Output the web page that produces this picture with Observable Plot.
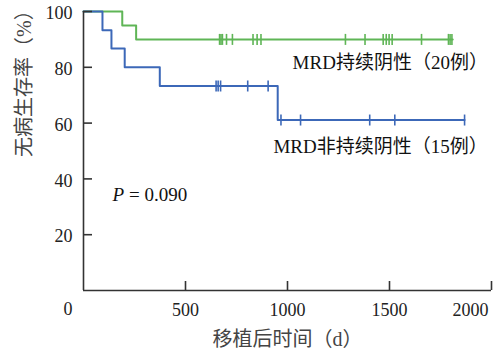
<!DOCTYPE html>
<html><head><meta charset="utf-8">
<script src="https://cdn.jsdelivr.net/npm/d3@7"></script>
<script src="https://cdn.jsdelivr.net/npm/@observablehq/plot@0.6"></script>
<style>body{margin:0;background:#fff}</style>
</head><body><div id="chart"></div>
<script>
// MRD持续阴性（20例） — green
const greenStepTimes = [0, 190, 258, 1810];
const greenStepSurv  = [100, 95, 90, 90];
const greenCensorTimes = [667, 674, 681, 701, 730, 831, 851, 870, 1284, 1380, 1469, 1484, 1498, 1513, 1657, 1789, 1797, 1806];
const greenCensorSurv  = [90, 90, 90, 90, 90, 90, 90, 90, 90, 90, 90, 90, 90, 90, 90, 90, 90, 90];
// MRD非持续阴性（15例） — blue
const blueStepTimes = [0, 93, 137, 202, 374, 952, 1868];
const blueStepSurv  = [100, 93.3, 86.7, 80, 73.3, 61.1, 61.1];
const blueCensorTimes = [650, 660, 672, 805, 905, 968, 1064, 1403, 1526, 1868];
const blueCensorSurv  = [73.3, 73.3, 73.3, 73.3, 73.3, 61.1, 61.1, 61.1, 61.1, 61.1];

const xTicks = [500, 1000, 1500, 2000];
const yTicks = [20, 40, 60, 80, 100];
const xTitle = "移植后时间（d）";
const yTitle = "无病生存率（%）";
const legendLabels = ["MRD持续阴性（20例）", "MRD非持续阴性（15例）"];
const legendX = [1025, 931];
const legendY = [81.4, 51.3];
const pLabel = {x: 328, y: 34};

const green = "#5fb556", blue = "#3c68b8", ink = "#222", axisInk = "#333";
const zip = (t, s) => t.map((d, i) => ({t: d, s: s[i]}));
const vbar = {draw(ctx, size) { const h = Math.sqrt(size / Math.PI); ctx.moveTo(0, -h); ctx.lineTo(0, h); }};

const chart = Plot.plot({
  width: 496, height: 357,
  marginLeft: 83, marginRight: 5, marginTop: 11, marginBottom: 67,
  style: {fontFamily: "'Liberation Serif', 'Noto Sans CJK SC', serif", fontSize: "18px", background: "#fff", overflow: "visible"},
  x: {domain: [0, 2000], label: null},
  y: {domain: [0, 100], label: null},
  marks: [
    Plot.line(zip(greenStepTimes, greenStepSurv), {x: "t", y: "s", curve: "step-after", stroke: green, strokeWidth: 2}),
    Plot.line(zip(blueStepTimes, blueStepSurv), {x: "t", y: "s", curve: "step-after", stroke: blue, strokeWidth: 2}),
    Plot.dot(zip(greenCensorTimes, greenCensorSurv), {x: "t", y: "s", symbol: vbar, r: 5.5, stroke: green, strokeWidth: 1.6, fill: "none"}),
    Plot.dot(zip(blueCensorTimes, blueCensorSurv), {x: "t", y: "s", symbol: vbar, r: 5.5, stroke: blue, strokeWidth: 1.6, fill: "none"}),
    Plot.ruleX([0], {stroke: axisInk, strokeWidth: 1.6}),
    Plot.ruleY([0], {stroke: axisInk, strokeWidth: 1.6}),
    // inward ticks (outward ticks shifted by their own length)
    Plot.axisY({ticks: yTicks, tickSize: 9, dx: 9, tickFormat: () => "", stroke: axisInk, strokeWidth: 1.6, label: null}),
    Plot.axisX({ticks: xTicks, tickSize: 9, dy: -9, tickFormat: () => "", stroke: axisInk, strokeWidth: 1.6, label: null}),
    // tick labels
    Plot.axisX({ticks: xTicks.slice(0, -1), tickSize: 0, tickPadding: 13, tickFormat: d => String(d), fill: ink, fontSize: 18, label: null}),
    Plot.axisX({ticks: xTicks.slice(-1), tickSize: 0, tickPadding: 13, tickFormat: d => String(d), fill: ink, fontSize: 18, dx: -21, label: null}),
    Plot.axisY({ticks: yTicks, tickSize: 0, tickPadding: 11, tickFormat: d => String(d), fill: ink, fontSize: 18, dy: 2, label: null}),
    Plot.text(["0"], {x: 0, y: 0, text: d => d, dx: -11, dy: 19, textAnchor: "end", fontSize: 18, fill: ink}),
    Plot.text(legendLabels, {x: (d, i) => legendX[i], y: (d, i) => legendY[i], text: d => d, textAnchor: "start", fontSize: 19, fill: "#111"}),
    Plot.text([yTitle], {frameAnchor: "left", text: d => d, rotate: -90, dx: -59, dy: 6, fontSize: 20, fill: "#444"}),
    Plot.text([xTitle], {frameAnchor: "bottom", text: d => d, dy: 55, fontSize: 20, fill: "#444"})
  ]
});
document.getElementById("chart").appendChild(chart);

// P-value label with italic P, positioned through the plot's scales
const sx = chart.scale("x"), sy = chart.scale("y");
const svg = d3.select(chart);
const t = svg.append("text")
  .attr("x", sx.apply(pLabel.x)).attr("y", sy.apply(pLabel.y)).attr("dy", "0.32em")
  .attr("font-size", 19).attr("fill", "#111");
t.append("tspan").attr("font-style", "italic").text("P");
t.append("tspan").text(" = 0.090");
</script>
</body></html>
